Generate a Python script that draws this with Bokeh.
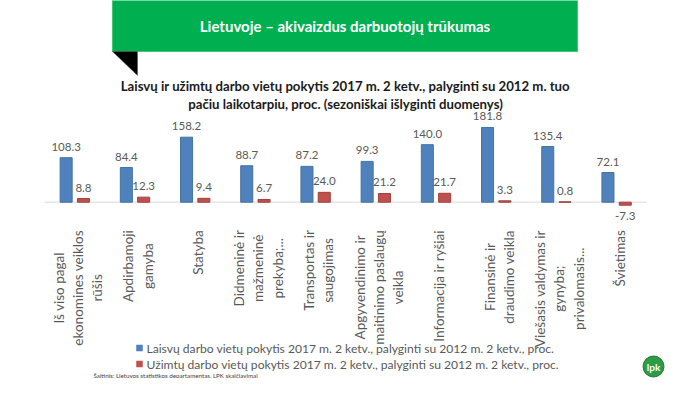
import numpy as np
from bokeh.plotting import figure
from bokeh.models import ColumnDataSource, Range1d
from bokeh.core.properties import value
from bokeh.embed import file_html
from bokeh.resources import INLINE

# ---------------- data ----------------
categories = [
    "Iš viso pagal\nekonomines veiklos\nrūšis",
    "Apdirbamoji\ngamyba",
    "Statyba",
    "Didmeninė ir\nmažmeninė\nprekyba;...",
    "Transportas ir\nsaugojimas",
    "Apgyvendinimo ir\nmaitinimo paslaugų\nveikla",
    "Informacija ir ryšiai",
    "Finansinė ir\ndraudimo veikla",
    "Viešasis valdymas ir\ngynyba;\nprivalomasis...",
    "Švietimas",
]
vacancies = [108.3, 84.4, 158.2, 88.7, 87.2, 99.3, 140.0, 181.8, 135.4, 72.1]
employed = [8.8, 12.3, 9.4, 6.7, 24.0, 21.2, 21.7, 3.3, 0.8, -7.3]
series_names = [
    "Laisvų darbo vietų pokytis 2017 m. 2 ketv., palyginti su 2012 m. 2 ketv., proc.",
    "Užimtų darbo vietų pokytis 2017 m. 2 ketv., palyginti su 2012 m. 2 ketv., proc.",
]
banner_text = "Lietuvoje – akivaizdus darbuotojų trūkumas"
title_lines = [
    "Laisvų ir užimtų darbo vietų pokytis 2017 m. 2 ketv., palyginti su 2012 m. tuo",
    "pačiu laikotarpiu, proc. (sezoniškai išlyginti duomenys)",
]
source_text = "Šaltinis: Lietuvos statistikos departamentas, LPK skaičiavimai"

# ---------------- layout ----------------
W, H = 684, 378
KX = 60.2        # px per category
KY = 0.411       # px per percentage point
X0_PX = 74.3     # x of first category centre
BASE_PX = 201.7  # y of zero line

x_range = Range1d(-X0_PX / KX, (W - X0_PX) / KX)
y_range = Range1d(-(H - BASE_PX) / KY, BASE_PX / KY)


def cx(px):
    return x_range.start + px / KX


def cy(py):
    return y_range.end - py / KY


BLUE = "#4F81BD"
RED = "#C0504D"
GRAY = "#595959"
FONT = value("Lato")

p = figure(width=W, height=H, x_range=x_range, y_range=y_range,
           output_backend="svg", toolbar_location=None, min_border=0,
           x_axis_type=None, y_axis_type=None)
p.outline_line_color = None
p.grid.visible = False
p.background_fill_color = "white"
p.border_fill_color = "white"

idx = np.arange(len(categories))
off = 0.1437
bw = 0.2

# zero axis line
p.segment(x0=[-0.5], y0=[0], x1=[len(categories) - 0.5], y1=[0],
          line_color="#D9D9D9", line_width=1)

src = ColumnDataSource(dict(
    xb=idx - off, xr=idx + off, vac=vacancies, emp=employed,
    vlab=[f"{v:.1f}" for v in vacancies],
    elab=[f"{v:.1f}" for v in employed],
    voff=[-11 if v >= 0 else 11 for v in vacancies],
    eoff=[-11 if v >= 0 else 11 for v in employed],
    cat=categories, xc=idx,
))

p.vbar(x="xb", top="vac", bottom=0, width=bw, source=src,
       fill_color=BLUE, line_color="#45739F", line_width=1)
p.vbar(x="xr", top="emp", bottom=0, width=bw, source=src,
       fill_color=RED, line_color="#A0403D", line_width=1)

p.text(x="xb", y="vac", text="vlab", y_offset="voff", source=src,
       text_align="center", text_baseline="middle", text_font=FONT,
       text_font_size="11.5px", text_color=GRAY)
p.text(x="xr", y="emp", text="elab", y_offset="eoff", source=src,
       text_align="center", text_baseline="middle", text_font=FONT,
       text_font_size="11.5px", text_color=GRAY)

# category labels (rotated)
p.text(x="xc", y=0, text="cat", source=src, angle=np.pi / 2,
       anchor=value("center_right"), text_align="center",
       text_baseline="middle", x_offset=3, y_offset=28,
       text_font=FONT, text_font_size="13.5px", text_color=GRAY,
       text_line_height=1.2)

# banner
p.quad(left=[cx(112)], right=[cx(577)], top=[cy(-2)], bottom=[cy(51)],
       fill_color="#00B050", line_color="#3DCB72", line_width=1)
p.patch(x=[cx(112), cx(137), cx(137)], y=[cy(51), cy(51), cy(75)],
        fill_color="black", line_color="#555555", line_width=0.5)
p.text(x=[cx(344.5)], y=[cy(25)], text=[banner_text], text_align="center",
       text_baseline="middle", text_font=FONT, text_font_style="bold",
       text_font_size="15px", text_color="white")

# chart title
p.text(x=[cx(345), cx(345)], y=[cy(85.5), cy(103)], text=title_lines,
       text_align="center", text_baseline="middle", text_font=FONT,
       text_font_style="bold", text_font_size="13.2px", text_color="#1a1a1a")

# legend (manual)
leg_y = [cy(347.5), cy(363.5)]
p.scatter(x=[cx(139), cx(139)], y=leg_y, marker="square", size=6.5,
          fill_color=[BLUE, RED], line_color=None)
p.text(x=[cx(146), cx(146)], y=leg_y, text=series_names, text_align="left",
       text_baseline="middle", text_font=FONT, text_font_size="12.1px",
       text_color=GRAY)

# source
p.text(x=[cx(93)], y=[cy(375)], text=[source_text], text_align="left",
       text_baseline="middle", text_font=FONT, text_font_size="6.2px",
       text_color="#404040")

# logo
p.scatter(x=[cx(653)], y=[cy(366)], marker="circle", size=21,
          fill_color="#2E9B45", line_color="#1F7A33", line_width=1)
p.text(x=[cx(653)], y=[cy(366)], text=["lpk"], text_align="center",
       text_baseline="middle", text_font=FONT, text_font_style="bold",
       text_font_size="10px", text_color="white")

open("out.html", "w").write(file_html(p, INLINE))
